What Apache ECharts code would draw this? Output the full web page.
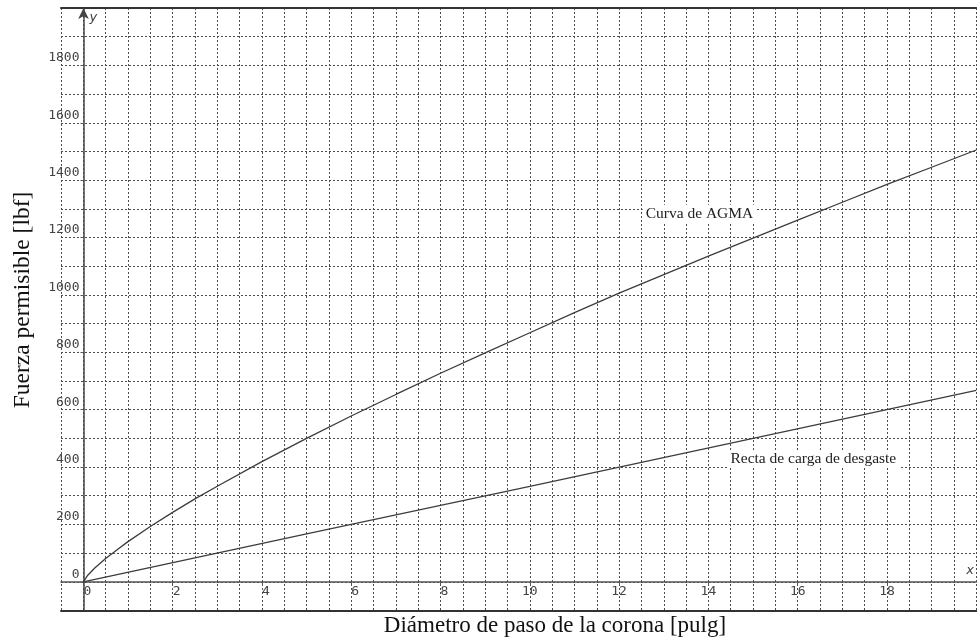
<!DOCTYPE html>
<html>
<head>
<meta charset="utf-8">
<script src="https://cdn.jsdelivr.net/npm/echarts@6/dist/echarts.min.js"></script>
<style>
  html, body { margin: 0; padding: 0; background: #fff; }
  #chart { width: 977px; height: 641px; }
</style>
</head>
<body>
<div id="chart"></div>
<script>
// Tick labels
const xTicks = [0, 2, 4, 6, 8, 10, 12, 14, 16, 18];
const yTicks = [0, 200, 400, 600, 800, 1000, 1200, 1400, 1600, 1800];

// AGMA allowable load vs. gear pitch diameter
const agmaX = [0, 0.1, 0.25, 0.5, 0.75, 1, 1.5, 2, 2.5, 3, 4, 5, 6, 7, 8, 9, 10, 11, 12, 13, 14, 15, 16, 17, 18, 19, 20];
const agmaY = [0, 23, 47, 81, 111, 140, 193, 242, 289, 333, 419, 500, 578, 653, 727, 798, 868, 938, 1006, 1071, 1135, 1198, 1261, 1323, 1385, 1445, 1505];

// Wear load line
const wearX = [0, 5, 10, 15, 20];
const wearY = [0, 167, 333, 500, 667];

// Curve captions
const agmaCaption = 'Curva de AGMA';
const agmaCaptionAt = [13.8, 1283];
const wearCaption = 'Recta de carga de desgaste';
const wearCaptionAt = [16.35, 428];

const xTitle = 'Diámetro de paso de la corona [pulg]';
const yTitle = 'Fuerza permisible [lbf]';

const pairs = (xs, ys) => xs.map((x, i) => [x, ys[i]]);

// Plot frame and axis extents
const W = 977, H = 641;
const frame = { left: 61, right: -6.5, top: 8, bottom: 30.5 };
const xMin = -0.5, xMax = 20, yMin = -100, yMax = 2000;
const plotW = W - frame.left - frame.right;
const plotH = H - frame.top - frame.bottom;
// shift the labelled axes from the frame edge onto x = 0 / y = 0
const xAxisShift = -(0 - yMin) / (yMax - yMin) * plotH;
const yAxisShift = -(0 - xMin) / (xMax - xMin) * plotW;

const gridLine = { show: true, lineStyle: { color: '#4c4c4c', width: 1, type: [2, 2] } };
const monoLabel = { fontFamily: 'DejaVu Sans Mono', fontSize: 13, color: '#444' };
const captionLabel = {
  show: true,
  position: 'inside',
  fontFamily: 'Liberation Serif',
  fontSize: 15.5,
  color: '#222',
  backgroundColor: '#fff',
  padding: [1, 3]
};
const hidden = { axisLine: { show: false }, axisTick: { show: false }, axisLabel: { show: false } };

const chart = echarts.init(document.getElementById('chart'), null, { renderer: 'canvas' });

chart.setOption({
  backgroundColor: '#fff',
  animation: false,
  grid: Object.assign({ containLabel: false }, frame),
  xAxis: [
    // dotted grid every 0.5
    Object.assign({ type: 'value', min: xMin, max: xMax, interval: 0.5, splitLine: gridLine }, hidden),
    // x axis through y = 0
    {
      type: 'value', position: 'bottom', offset: xAxisShift, min: xMin, max: xMax,
      name: 'x', nameLocation: 'end', nameGap: -10,
      nameTextStyle: { fontFamily: 'DejaVu Sans', fontStyle: 'italic', fontSize: 13, color: '#444',
                       align: 'left', verticalAlign: 'bottom', padding: [0, 0, 5, 0] },
      axisLine: { show: true, onZero: false, lineStyle: { color: '#555', width: 1.5 } },
      axisTick: { show: true, customValues: xTicks, length: 4, lineStyle: { color: '#555' } },
      axisLabel: {
        customValues: xTicks,
        margin: 3,
        verticalAlign: 'top',
        formatter: v => (v < 10 ? '{s|' + v + '}' : '{d|' + v + '}'),
        rich: {
          s: Object.assign({ padding: [0, 0, 0, 8] }, monoLabel),
          d: Object.assign({}, monoLabel)
        }
      },
      splitLine: { show: false }
    },
    // frame top and bottom
    Object.assign({}, hidden, { type: 'value', position: 'top', min: xMin, max: xMax, splitLine: { show: false },
      axisLine: { show: true, onZero: false, lineStyle: { color: '#333', width: 2 } } }),
    Object.assign({}, hidden, { type: 'value', position: 'bottom', min: xMin, max: xMax, splitLine: { show: false },
      axisLine: { show: true, onZero: false, lineStyle: { color: '#333', width: 2 } } })
  ],
  yAxis: [
    // dotted grid every 100
    Object.assign({ type: 'value', min: yMin, max: yMax, interval: 100, splitLine: gridLine }, hidden),
    // y axis through x = 0
    {
      type: 'value', position: 'left', offset: yAxisShift, min: yMin, max: yMax,
      name: 'y', nameLocation: 'end', nameGap: -3,
      nameTextStyle: { fontFamily: 'DejaVu Sans', fontStyle: 'italic', fontSize: 13, color: '#444',
                       align: 'left', verticalAlign: 'top', padding: [0, 0, 0, 6] },
      axisLine: { show: true, onZero: false, symbol: ['none', 'arrow'], symbolSize: [8, 11],
                  lineStyle: { color: '#444', width: 1.5 } },
      axisTick: { show: true, customValues: yTicks, length: 3, lineStyle: { color: '#555' } },
      axisLabel: Object.assign({ customValues: yTicks, margin: 4, verticalAlign: 'bottom', padding: [0, 0, 1, 0],
                                 formatter: v => String(v) }, monoLabel),
      splitLine: { show: false }
    }
  ],
  series: [
    {
      name: agmaCaption,
      type: 'line',
      xAxisIndex: 0, yAxisIndex: 0,
      data: pairs(agmaX, agmaY),
      showSymbol: false,
      lineStyle: { color: '#3c3c3c', width: 1.3 },
      z: 5,
      markPoint: {
        symbol: 'rect', symbolSize: 0, silent: true,
        label: Object.assign({ formatter: agmaCaption }, captionLabel),
        data: [{ coord: agmaCaptionAt }]
      }
    },
    {
      name: wearCaption,
      type: 'line',
      xAxisIndex: 0, yAxisIndex: 0,
      data: pairs(wearX, wearY),
      showSymbol: false,
      lineStyle: { color: '#3c3c3c', width: 1.3 },
      z: 5,
      markPoint: {
        symbol: 'rect', symbolSize: 0, silent: true,
        label: Object.assign({ formatter: wearCaption }, captionLabel),
        data: [{ coord: wearCaptionAt }]
      }
    }
  ],
  graphic: [
    {
      type: 'text', x: 555, y: 626,
      style: { text: xTitle, font: '23px "Liberation Serif"', fill: '#111', align: 'center', verticalAlign: 'middle' }
    },
    {
      type: 'text', x: 23, y: 300, rotation: Math.PI / 2,
      style: { text: yTitle, font: '23.5px "Liberation Serif"', fill: '#111', align: 'center', verticalAlign: 'middle' }
    }
  ]
});
</script>
</body>
</html>
